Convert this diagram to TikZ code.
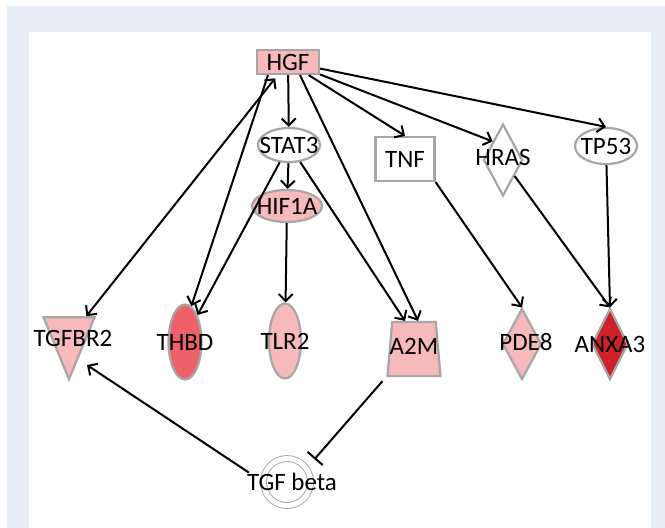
\documentclass[tikz,border=0pt]{standalone}
\usepackage{fontspec}
\setmainfont{Carlito}
\usetikzlibrary{shapes.geometric,arrows.meta}
\definecolor{genepink}{HTML}{F8B9BB}
\definecolor{genered}{HTML}{EF6169}
\definecolor{genedark}{HTML}{CD2129}
\definecolor{rimgray}{HTML}{A6A6A6}
\definecolor{panelblue}{HTML}{E7EEF8}
\newcommand{\gname}[1]{\makebox[0pt]{#1}}

\begin{document}
\begin{tikzpicture}[x=1pt,y=-1pt,
        gene/.style={draw=rimgray,line width=2.2pt,inner sep=0pt,font=\fontsize{25}{28}\selectfont},
        link/.style={line width=2pt},
        >={Straight Barb[length=7pt,width=14pt]}]
        \useasboundingbox (0,0) rectangle (665,528);
        \fill[panelblue] (7,6) rectangle (665,528);
        \fill[white] (29,32) rectangle (651,528);

        \node[gene,rectangle,fill=genepink,minimum width=62,minimum height=24] (hgf) at (288,62) {\gname{HGF}};
        \node[gene,ellipse,fill=white,minimum width=62,minimum height=34] (stat3) at (289,145) {\gname{STAT3}};
        \node[gene,rectangle,fill=white,minimum width=59,minimum height=44] (tnf) at (405,159) {\gname{TNF}};
        \node[gene,diamond,fill=white,minimum width=39,minimum height=72] (hras) at (503,160) {\gname{\raisebox{6pt}{HRAS}}};
        \node[gene,ellipse,fill=white,minimum width=62,minimum height=36] (tp53) at (606,146) {\gname{TP53}};
        \node[gene,ellipse,fill=genepink,minimum width=70,minimum height=32] (hif1a) at (287,206) {\gname{HIF1A}};

        \node[gene,isosceles triangle,isosceles triangle stretches,shape border rotate=270,
              fill=genepink,minimum width=51,minimum height=62] (tgfbr2) at (69,338) {\gname{\hspace{8pt}TGFBR2}};
        \node[gene,ellipse,fill=genered,minimum width=33,minimum height=75] (thbd) at (185,342) {\gname{THBD}};
        \node[gene,ellipse,fill=genepink,minimum width=32,minimum height=75] (tlr2) at (285,341) {\gname{TLR2}};
        \node[gene,trapezium,trapezium stretches body,trapezium left angle=78,trapezium right angle=78,
              fill=genepink,minimum width=53,minimum height=54] (a2m) at (414,349) {\gname{\raisebox{6pt}{A2M}}};
        \node[gene,diamond,fill=genepink,minimum width=39,minimum height=71] (pde8) at (522,344) {\gname{\raisebox{5pt}{\hspace{8pt}PDE8}}};
        \node[gene,diamond,fill=genedark,minimum width=36,minimum height=71] (anxa3) at (610,344) {\gname{ANXA3}};

        \node[gene,circle,line width=0.9pt,double=white,double distance=5pt,minimum size=47] (tgfb) at (287,482) {\gname{\hspace{10pt}TGF beta}};

        \draw[link,<->,shorten <=4pt] (hgf) -- (tgfbr2);
        \draw[link,->] ([xshift=-20]hgf.south) -- (thbd.80);
        \draw[link,->] (stat3) -- (thbd.65);
        \draw[link,->] (hgf) -- (stat3);
        \draw[link,->] (stat3) -- (hif1a);
        \draw[link,->] (hif1a) -- (tlr2);
        \draw[link,->] (stat3) -- ([xshift=-9]a2m.north);
        \draw[link,->] ([xshift=12]hgf.south) -- ([xshift=4]a2m.north);
        \draw[link,->] (hgf) -- (tnf.north);
        \draw[link,->] (hgf) -- (hras.north west);
        \draw[link,->] (hgf) -- (tp53.north);
        \draw[link,->] (tnf.south east) -- (pde8.north);
        \draw[link,->] (hras) -- (anxa3.north);
        \draw[link,->] (tp53) -- (anxa3.north);
        \draw[link,-{Bar[width=20pt]},shorten <=6pt,shorten >=12pt] (a2m.south west) -- (tgfb.35);
        \draw[link,->,shorten <=17pt] (tgfb.west) -- ([xshift=18pt,yshift=-27pt]tgfbr2.center);

    \end{tikzpicture}
\end{document}
